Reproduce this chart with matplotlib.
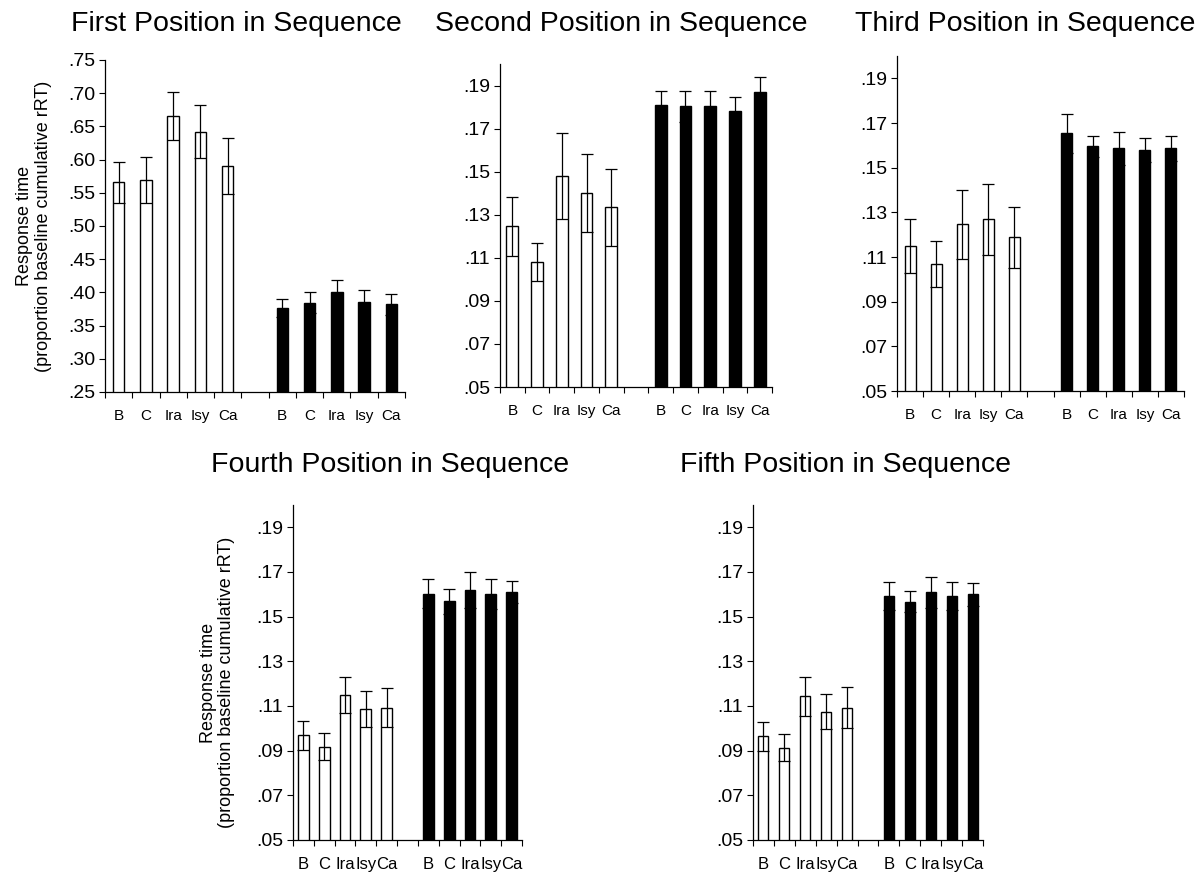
import numpy as np
import matplotlib.pyplot as plt

plt.rcParams['font.family'] = ['Liberation Sans', 'DejaVu Sans']

# Condition labels under each group of bars
labels = ['B', 'C', 'Ira', 'Isy', 'Ca']

# First position (open bars = first group, filled bars = second group)
first_open = [0.566, 0.569, 0.666, 0.642, 0.590]
first_open_err = [0.031, 0.035, 0.036, 0.040, 0.042]
first_filled = [0.3765, 0.3845, 0.401, 0.386, 0.382]
first_filled_err = [0.013, 0.016, 0.018, 0.017, 0.016]

# Second position
second_open = [0.1246, 0.108, 0.1478, 0.140, 0.1334]
second_open_err = [0.0137, 0.009, 0.020, 0.018, 0.018]
second_filled = [0.181, 0.1803, 0.1803, 0.1784, 0.1868]
second_filled_err = [0.0065, 0.0072, 0.0072, 0.0065, 0.007]

# Third position
third_open = [0.1148, 0.1069, 0.1246, 0.1269, 0.1188]
third_open_err = [0.012, 0.0103, 0.0156, 0.016, 0.0136]
third_filled = [0.1653, 0.1596, 0.1587, 0.158, 0.1587]
third_filled_err = [0.0089, 0.0048, 0.0073, 0.0055, 0.0057]

# Fourth position
fourth_open = [0.0968, 0.0918, 0.115, 0.1086, 0.1093]
fourth_open_err = [0.0065, 0.006, 0.0082, 0.008, 0.0087]
fourth_filled = [0.1603, 0.1568, 0.1618, 0.1601, 0.161]
fourth_filled_err = [0.0064, 0.0058, 0.008, 0.0066, 0.0048]

# Fifth position
fifth_open = [0.0965, 0.0913, 0.1143, 0.1075, 0.1093]
fifth_open_err = [0.0065, 0.006, 0.0088, 0.008, 0.009]
fifth_filled = [0.1593, 0.1567, 0.1609, 0.1593, 0.160]
fifth_filled_err = [0.0062, 0.0047, 0.007, 0.0062, 0.005]

titles = ['First Position in Sequence', 'Second Position in Sequence',
          'Third Position in Sequence', 'Fourth Position in Sequence',
          'Fifth Position in Sequence']

W, H = 1203, 874
fig = plt.figure(figsize=(W / 100, H / 100), dpi=100)

# axes boxes in pixels: left, top, right, bottom
boxes = [(105, 60, 405, 392), (500, 64, 772, 387), (897, 56, 1184, 391),
         (293, 505, 522, 840), (753, 505, 983, 840)]
# title centres in pixels
title_pos = [(236, 24), (621, 24), (1025, 24), (390, 465), (845, 465)]
bar_widths = [0.42, 0.48, 0.42, 0.52, 0.48]
xlabel_sizes = [11, 11, 11, 12, 12]

panels = [
    (first_open, first_open_err, first_filled, first_filled_err),
    (second_open, second_open_err, second_filled, second_filled_err),
    (third_open, third_open_err, third_filled, third_filled_err),
    (fourth_open, fourth_open_err, fourth_filled, fourth_filled_err),
    (fifth_open, fifth_open_err, fifth_filled, fifth_filled_err),
]

x_open = np.arange(5)
x_filled = np.arange(5) + 6
ylabel = 'Response time\n(proportion baseline cumulative rRT)'

for i, (o, oe, f, fe) in enumerate(panels):
    l, t, r, b = boxes[i]
    ax = fig.add_axes([l / W, 1 - b / H, (r - l) / W, (b - t) / H])
    w = bar_widths[i]

    ax.bar(x_open, o, width=w, color='white', edgecolor='black', linewidth=1.0)
    ax.bar(x_filled, f, width=w, color='black', edgecolor='black', linewidth=1.0)
    ax.errorbar(x_open, o, yerr=oe, fmt='none', ecolor='black',
                elinewidth=0.9, capsize=4, capthick=0.9)
    ax.errorbar(x_filled, f, yerr=fe, fmt='none', ecolor='black',
                elinewidth=0.9, capsize=4, capthick=0.9)

    # y axis range and ticks
    if i == 0:
        ax.set_ylim(0.25, 0.75)
        yt = np.arange(0.25, 0.751, 0.05)
    else:
        ax.set_ylim(0.05, 0.20)
        yt = np.arange(0.05, 0.191, 0.02)
    ax.set_yticks(yt)
    ax.set_yticklabels([('%.2f' % v)[1:] for v in yt], fontsize=14)

    # x axis: labels under bars, small ticks at slot boundaries
    ax.set_xlim(-0.5, 10.5)
    ax.set_xticks(list(x_open) + list(x_filled))
    ax.set_xticklabels(labels + labels, fontsize=xlabel_sizes[i])
    ax.set_xticks(np.arange(-0.5, 10.6, 1), minor=True)
    ax.tick_params(axis='x', which='major', length=0, pad=12)
    ax.tick_params(axis='x', which='minor', length=4, width=0.8, direction='out')
    ax.tick_params(axis='y', length=4, width=0.8, direction='out', pad=3)

    for s in ['top', 'right']:
        ax.spines[s].set_visible(False)
    for s in ['left', 'bottom']:
        ax.spines[s].set_linewidth(0.9)

    if i == 0:
        ax.set_ylabel(ylabel, fontsize=13, linespacing=1.1)
        ax.yaxis.set_label_coords(-0.178, 0.5)
    if i == 3:
        ax.set_ylabel(ylabel, fontsize=13, linespacing=1.1)
        ax.yaxis.set_label_coords(-0.253, 0.47)

    tx, ty = title_pos[i]
    fig.text(tx / W, 1 - ty / H, titles[i], fontsize=20.5, ha='center', va='center')

plt.savefig('out.png', dpi=100)
